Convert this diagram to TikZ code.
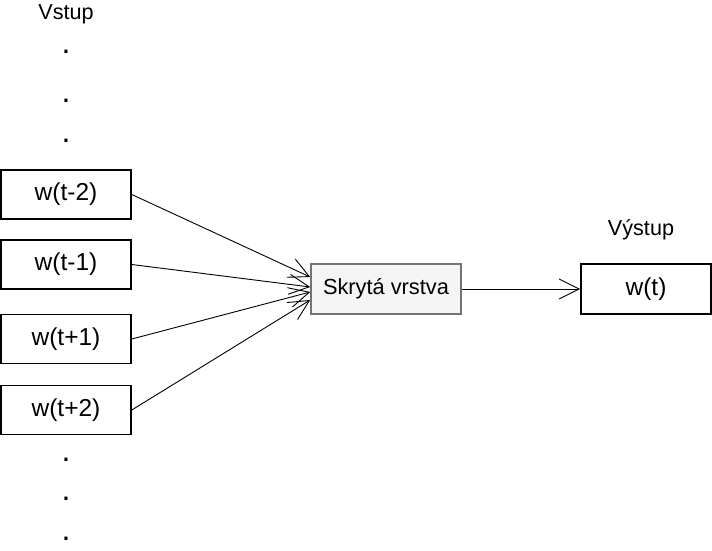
\documentclass[tikz,border=0pt]{standalone}
\usepackage{fontspec}
\setmainfont{Liberation Sans}
\usetikzlibrary{arrows.meta}
\tikzset{
  wbox/.style={draw=black, line width=1.6pt, minimum width=130pt, minimum height=49pt, inner sep=0pt, font=\fontsize{24.5}{28}\selectfont},
  hidbox/.style={draw=black!55, fill=black!4, line width=1.6pt, minimum width=150pt, minimum height=50pt, inner sep=0pt, font=\fontsize{21.8}{26}\selectfont},
  lbl/.style={inner sep=0pt, font=\fontsize{21.6}{26}\selectfont},
  dotlbl/.style={inner sep=0pt, anchor=base, font=\fontsize{32}{32}\selectfont},
  arr/.style={line width=0.9pt, -{Straight Barb[length=20pt,width=20pt,line width=0.9pt]}}
}
\begin{document}
\begin{tikzpicture}[x=1pt,y=-1pt]
\useasboundingbox (0,0) rectangle (712,551);
\node[lbl] (vstup) at (66,14) {Vstup};
\node[dotlbl] (d1) at (66,53) {.};
\node[dotlbl] (d2) at (66,102.5) {.};
\node[dotlbl] (d3) at (66,142.5) {.};
\node[wbox] (a) at (66,194.5) {w(t-2)};
\node[wbox] (b) at (66,264.5) {w(t-1)};
\node[wbox] (c) at (66,339) {w(t+1)};
\node[wbox] (d) at (66,410) {w(t+2)};
\node[dotlbl] (d4) at (66,461) {.};
\node[dotlbl] (d5) at (66,500) {.};
\node[dotlbl] (d6) at (66,540) {.};
\node[hidbox] (h) at (386,289) {Skrytá vrstva};
\node[wbox, minimum height=50pt, line width=1.9pt] (o) at (646,289) {w(t)};
\node[lbl] (vystup) at (641,230) {Výstup};
\draw[arr] (a.east) -- ([yshift=12pt]h.west);
\draw[arr] (b.east) -- ([yshift=2pt]h.west);
\draw[arr] (c.east) -- ([yshift=-3pt]h.west);
\draw[arr] (d.east) -- ([yshift=-11pt]h.west);
\draw[arr] (h.east) -- (o.west);
\end{tikzpicture}
\end{document}
